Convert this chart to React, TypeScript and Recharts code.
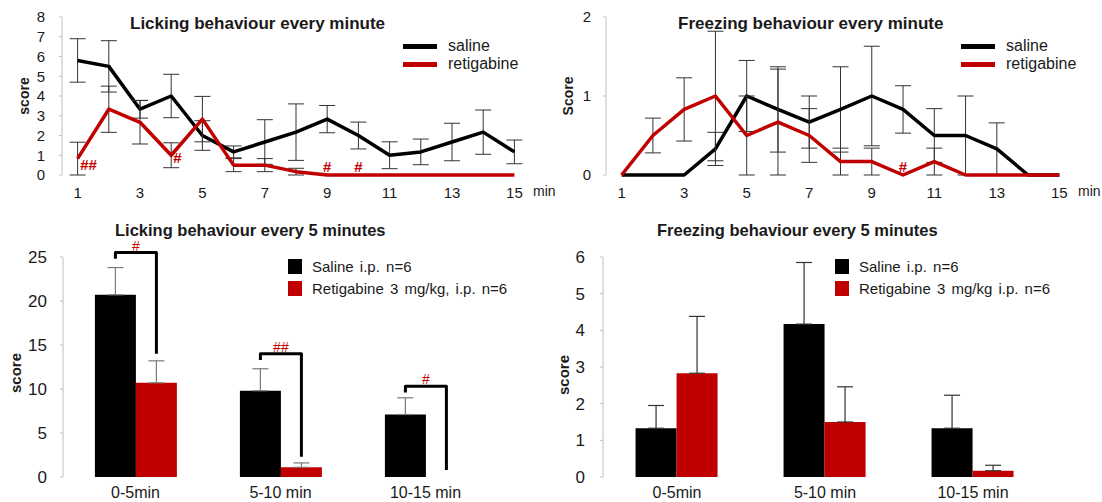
import React from 'react';
import { LineChart, Line, BarChart, Bar, XAxis, YAxis, ErrorBar, ReferenceDot } from 'recharts';

// per-minute scores (mean and SEM)
const minutes = [1, 2, 3, 4, 5, 6, 7, 8, 9, 10, 11, 12, 13, 14, 15];

const lickSaline = [5.8, 5.5, 3.33, 4.0, 2.0, 1.17, 1.67, 2.17, 2.83, 2.0, 1.0, 1.17, 1.67, 2.17, 1.17];
const lickSalineSem = [1.1, 1.3, 0.45, 1.1, 0.75, 0.3, 1.13, 1.43, 0.69, 0.68, 0.68, 0.65, 0.95, 1.12, 0.6];
const lickRetig = [0.83, 3.33, 2.67, 1.0, 2.83, 0.5, 0.5, 0.17, 0, 0, 0, 0, 0, 0, 0];
const lickRetigSem = [0.83, 1.17, 1.1, 0.63, 1.15, 0.33, 0.33, 0.17, 0, 0, 0, 0, 0, 0, 0];

const freezeSaline = [0, 0, 0, 0.33, 1.0, 0.83, 0.67, 0.83, 1.0, 0.83, 0.5, 0.5, 0.33, 0, 0];
const freezeSalineSem = [0, 0, 0, 0.21, 0.45, 0.54, 0.33, 0.54, 0.63, 0.3, 0.34, 0.5, 0.33, 0, 0];
const freezeRetig = [0, 0.5, 0.83, 1.0, 0.5, 0.67, 0.5, 0.17, 0.17, 0, 0.17, 0, 0, 0, 0];
const freezeRetigSem = [0, 0.22, 0.4, 0.82, 0.5, 0.67, 0.34, 0.17, 0.17, 0, 0.17, 0, 0, 0, 0];

// significance marks on the minute charts
const lickSigX = [1.35, 4.2, 9, 10];
const lickSigY = [0.5, 0.88, 0.4, 0.4];
const lickSigText = ['##', '#', '#', '#'];
const freezeSigX = [10];
const freezeSigY = [0.11];
const freezeSigText = ['#'];

// 5-minute blocks
const blocks = ['0-5min', '5-10 min', '10-15 min'];
const lickBlockSaline = [20.7, 9.8, 7.1];
const lickBlockSalineSem = [3.1, 2.5, 1.9];
const lickBlockRetig = [10.7, 1.1, 0];
const lickBlockRetigSem = [2.5, 0.5, 0];
const freezeBlockSaline = [1.33, 4.17, 1.33];
const freezeBlockSalineSem = [0.62, 1.68, 0.9];
const freezeBlockRetig = [2.83, 1.5, 0.17];
const freezeBlockRetigSem = [1.55, 0.96, 0.15];

// brackets over the licking blocks
const lickBracketTop = [25.5, 14.0, 10.3];
const lickBracketLeftEnd = [24.8, 13.3, 9.6];
const lickBracketRightEnd = [14.0, 2.3, 0.8];
const lickBracketMark = ['#', '##', '#'];

const minuteTicks = [1, 3, 5, 7, 9, 11, 13, 15];
const boundaryTicks = [0.5, ...minutes.map((m) => m + 0.5)];

const RED = '#c00000';
const AXIS = '#bfbfbf';
const TEXT = '#1a1a1a';
const FONT = '"Liberation Sans", Arial, sans-serif';

const lineSeries = [
  { key: 'saline', name: 'saline', color: '#000000' },
  { key: 'retig', name: 'retigabine', color: RED },
];
const barSeries = [
  { key: 'saline', color: '#000000' },
  { key: 'retig', color: RED },
];
const lickBarNames = ['Saline i.p. n=6', 'Retigabine 3 mg/kg, i.p. n=6'];
const freezeBarNames = ['Saline i.p. n=6', 'Retigabine 3 mg/kg i.p. n=6'];

const lickRows = minutes.map((m, i) => ({
  minute: m,
  saline: lickSaline[i],
  salineSem: lickSalineSem[i],
  retig: lickRetig[i],
  retigSem: lickRetigSem[i],
}));
const freezeRows = minutes.map((m, i) => ({
  minute: m,
  saline: freezeSaline[i],
  salineSem: freezeSalineSem[i],
  retig: freezeRetig[i],
  retigSem: freezeRetigSem[i],
}));
const lickBlockRows = blocks.map((b, i) => ({
  block: b,
  saline: lickBlockSaline[i],
  salineErr: [0, lickBlockSalineSem[i]],
  retig: lickBlockRetig[i],
  retigErr: [0, lickBlockRetigSem[i]],
}));
const freezeBlockRows = blocks.map((b, i) => ({
  block: b,
  saline: freezeBlockSaline[i],
  salineErr: [0, freezeBlockSalineSem[i]],
  retig: freezeBlockRetig[i],
  retigErr: [0, freezeBlockRetigSem[i]],
}));

const yTitle = (text: string, dx: number, dy: number, fs: number) => (props: any) => {
  const vb = props.viewBox;
  const cx = vb.x + dx;
  const cy = vb.y + vb.height / 2 + dy;
  return (
    <text x={cx} y={cy} transform={`rotate(-90 ${cx} ${cy})`} textAnchor="middle" dominantBaseline="central"
      fontWeight="bold" fontSize={fs} fill={TEXT} fontFamily={FONT}>{text}</text>
  );
};

const minLabel = (props: any) => {
  const vb = props.viewBox;
  return (
    <text x={vb.x + vb.width + 3} y={vb.y + 21} fontSize={14} fill={TEXT} fontFamily={FONT}>min</text>
  );
};

const Title = ({ text, left, cy, fs }: { text: string; left: number; cy: number; fs: number }) => (
  <div style={{ position: 'absolute', left, top: cy - fs * 0.49, fontSize: fs, lineHeight: `${fs}px`, fontWeight: 'bold', color: TEXT, whiteSpace: 'nowrap' }}>
    {text}
  </div>
);

const LineLegend = ({ left, top }: { left: number; top: number }) => (
  <div style={{ position: 'absolute', left, top }}>
    {lineSeries.map((s) => (
      <div key={s.key} style={{ display: 'flex', alignItems: 'center', height: 18 }}>
        <div style={{ width: 34, height: 5, background: s.color }} />
        <span style={{ marginLeft: 11, fontSize: 16, color: TEXT, whiteSpace: 'nowrap' }}>{s.name}</span>
      </div>
    ))}
  </div>
);

const BarLegend = ({ left, top, names }: { left: number; top: number; names: string[] }) => (
  <div style={{ position: 'absolute', left, top }}>
    {barSeries.map((s, i) => (
      <div key={s.key} style={{ display: 'flex', alignItems: 'center', height: 22 }}>
        <div style={{ width: 14, height: 15, background: s.color }} />
        <span style={{ marginLeft: 10, fontSize: 15, color: TEXT, whiteSpace: 'pre', wordSpacing: 2 }}>{names[i]}</span>
      </div>
    ))}
  </div>
);

type MinuteProps = {
  rows: any[];
  yMax: number;
  yTicks: number[];
  yWidth: number;
  yMargin: number;
  yLabel: string;
  yLabelDx: number;
  sigX: number[];
  sigY: number[];
  sigText: string[];
  width: number;
  rightMargin: number;
};

const MinuteChart = (p: MinuteProps) => (
  <LineChart width={p.width} height={200} data={p.rows} margin={{ top: 17, right: p.rightMargin, bottom: 0, left: 0 }}>
    <XAxis xAxisId="m" type="number" dataKey="minute" domain={[0.5, 15.5]} allowDataOverflow ticks={boundaryTicks}
      tick={false} tickSize={5} height={0} stroke={AXIS} />
    <XAxis xAxisId="l" type="number" dataKey="minute" domain={[0.5, 15.5]} allowDataOverflow ticks={minuteTicks}
      axisLine={false} tickLine={false} tickSize={0} tickMargin={12} height={25} interval={0}
      tick={{ fill: TEXT, fontSize: 15, fontFamily: FONT }} label={minLabel} />
    <YAxis domain={[0, p.yMax]} ticks={p.yTicks} width={p.yWidth} tickSize={3} tickMargin={p.yMargin}
      stroke={AXIS} interval={0} tick={{ fill: TEXT, fontSize: 15, fontFamily: FONT }}
      label={yTitle(p.yLabel, p.yLabelDx, 0, 14)} />
    {lineSeries.map((s) => (
      <Line key={s.key} xAxisId="l" type="linear" dataKey={s.key} name={s.name} stroke={s.color} strokeWidth={3.5}
        strokeLinejoin="round" dot={false} activeDot={false} isAnimationActive={false}>
        <ErrorBar dataKey={`${s.key}Sem`} direction="y" width={8} stroke="#333" strokeWidth={1} isAnimationActive={false} />
      </Line>
    ))}
    {p.sigX.map((x, i) => (
      <ReferenceDot key={i} xAxisId="l" x={x} y={p.sigY[i]} r={0} fill="none" stroke="none" ifOverflow="visible"
        label={{ value: p.sigText[i], position: 'center', fill: RED, fontSize: 15, fontWeight: 'bold', fontFamily: FONT }} />
    ))}
  </LineChart>
);

const makeBracket = (props: any) => {
  const vb = props.viewBox ?? props;
  const { x, y, width, height } = vb;
  const index = props.index;
  const value = lickBlockSaline[index];
  if (!value || !height) return null;
  const base = y + height;
  const perUnit = height / value;
  const yy = (v: number) => base - v * perUnit;
  const x1 = x + width / 2;
  const x2 = x + width * 1.5;
  const top = yy(lickBracketTop[index]);
  return (
    <g>
      <path d={`M${x1},${yy(lickBracketLeftEnd[index])} L${x1},${top} L${x2},${top} L${x2},${yy(lickBracketRightEnd[index])}`}
        stroke="#000" strokeWidth={3} fill="none" strokeLinejoin="round" />
      <text x={(x1 + x2) / 2} y={top - 7} textAnchor="middle" dominantBaseline="central" fill={RED} fontSize={14}
        fontFamily={FONT}>{lickBracketMark[index]}</text>
    </g>
  );
};

type BlockProps = {
  rows: any[];
  width: number;
  yMax: number;
  yTicks: number[];
  yWidth: number;
  yMargin: number;
  yLabelDx: number;
  yLabelDy: number;
  rightMargin: number;
  errColor: string;
  bracket?: boolean;
};

const BlockChart = (p: BlockProps) => (
  <BarChart width={p.width} height={282} data={p.rows}
    margin={{ top: 37, right: p.rightMargin, bottom: 0, left: 0 }} barGap={0} barCategoryGap="22%">
    <XAxis xAxisId="b" type="number" domain={[0, 3]} allowDataOverflow ticks={[0, 1, 2, 3]} tick={false}
      tickSize={5} height={0} stroke={AXIS} />
    <XAxis xAxisId="c" dataKey="block" axisLine={false} tickLine={false} tickSize={0} tickMargin={10} height={25}
      interval={0} tick={{ fill: TEXT, fontSize: 16, fontFamily: FONT }} />
    <YAxis domain={[0, p.yMax]} ticks={p.yTicks} width={p.yWidth} tickSize={3} tickMargin={p.yMargin}
      stroke={AXIS} interval={0} tick={{ fill: TEXT, fontSize: 17, fontFamily: FONT }}
      label={yTitle('score', p.yLabelDx, p.yLabelDy, 15)} />
    {barSeries.map((s) => (
      <Bar key={s.key} xAxisId="c" dataKey={s.key} fill={s.color} isAnimationActive={false}
        label={p.bracket && s.key === 'saline' ? makeBracket : undefined}>
        <ErrorBar dataKey={`${s.key}Err`} direction="y" width={8} stroke={p.errColor} strokeWidth={1.2} isAnimationActive={false} />
      </Bar>
    ))}
  </BarChart>
);

const Panel = ({ left, top, children }: { left: number; top: number; children: React.ReactNode }) => (
  <div style={{ position: 'absolute', left, top }}>{children}</div>
);

export default function App() {
  return (
    <div style={{ position: 'absolute', left: 0, top: 0, width: 1102, height: 502, background: '#fff', overflow: 'hidden', fontFamily: FONT }}>
      <Panel left={0} top={0}>
        <MinuteChart rows={lickRows} yMax={8} yTicks={[0, 1, 2, 3, 4, 5, 6, 7, 8]} yWidth={62} yMargin={14}
          yLabel="score" yLabelDx={24} sigX={lickSigX} sigY={lickSigY} sigText={lickSigText} width={560} rightMargin={30} />
      </Panel>
      <Title text="Licking behaviour every minute" left={130} cy={23} fs={17} />
      <LineLegend left={403} top={37} />

      <Panel left={560} top={0}>
        <MinuteChart rows={freezeRows} yMax={2} yTicks={[0, 1, 2]} yWidth={46} yMargin={12}
          yLabel="Score" yLabelDx={8} sigX={freezeSigX} sigY={freezeSigY} sigText={freezeSigText} width={542} rightMargin={27} />
      </Panel>
      <Title text="Freezing behaviour every minute" left={678} cy={23} fs={17} />
      <LineLegend left={961} top={37} />

      <Panel left={0} top={220}>
        <BlockChart rows={lickBlockRows} width={545} yMax={25} yTicks={[0, 5, 10, 15, 20, 25]} yWidth={63} yMargin={13}
          yLabelDx={15} yLabelDy={6} rightMargin={47} errColor="#7a7a7a" bracket />
      </Panel>
      <Title text="Licking behaviour every 5 minutes" left={115} cy={230} fs={16.5} />
      <BarLegend left={288} top={255} names={lickBarNames} />

      <Panel left={545} top={220}>
        <BlockChart rows={freezeBlockRows} width={557} yMax={6} yTicks={[0, 1, 2, 3, 4, 5, 6]} yWidth={58} yMargin={15}
          yLabelDx={18} yLabelDy={8} rightMargin={55} errColor="#333" />
      </Panel>
      <Title text="Freezing behaviour every 5 minutes" left={657} cy={230} fs={16.5} />
      <BarLegend left={835} top={255} names={freezeBarNames} />
    </div>
  );
}
